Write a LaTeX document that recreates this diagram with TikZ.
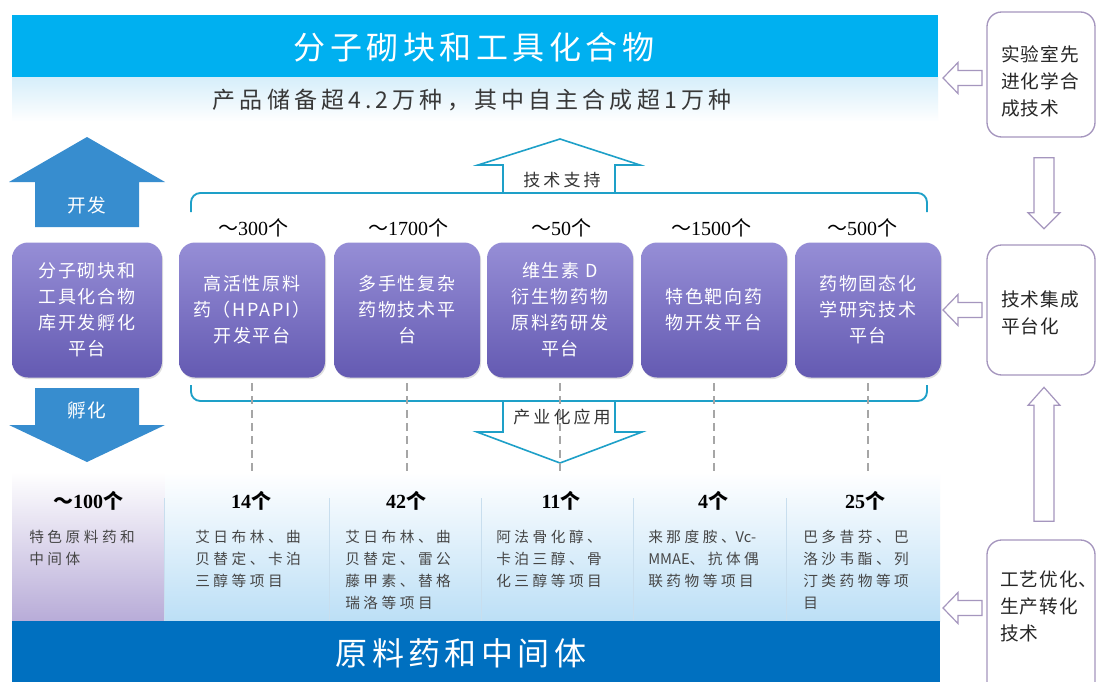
\documentclass[tikz,border=0pt]{standalone}
\usepackage{fontspec}
\setmainfont{Liberation Serif}
\newfontfamily\cjk{Noto Sans CJK SC}
\newfontfamily\cjkA[LetterSpace=14]{Noto Sans CJK SC}
\newfontfamily\cjkB[LetterSpace=18]{Noto Sans CJK SC}
\newfontfamily\cjkC[LetterSpace=10]{Noto Sans CJK SC}
\newfontfamily\cjkR[LetterSpace=5]{Noto Sans CJK SC}
\newfontfamily\cjkD[LetterSpace=24]{Noto Sans CJK SC}
\usetikzlibrary{shadows,calc}
\definecolor{topblue}{RGB}{0,176,240}
\definecolor{botblue}{RGB}{0,112,192}
\definecolor{arrblue}{RGB}{55,141,207}
\definecolor{brk}{RGB}{30,160,200}
\definecolor{purT}{RGB}{150,142,214}
\definecolor{purB}{RGB}{100,90,178}
\definecolor{rboxc}{RGB}{165,150,190}
\definecolor{lb}{RGB}{188,223,246}
\definecolor{lav}{RGB}{184,172,216}
\definecolor{lband}{RGB}{214,238,250}
\definecolor{descgray}{RGB}{70,70,70}
\definecolor{divc}{RGB}{200,222,238}
\newcommand\ct[1]{{\cjk ～}#1{\cjk 个}}
\begin{document}
\begin{tikzpicture}[x=0.75pt,y=-0.75pt,
  pbox/.style={rounded corners=12pt, top color=purT, bottom color=purB,
    minimum width=109.5pt, minimum height=101.25pt, text=white, align=center,
    inner sep=0pt, font=\fontsize{13.5}{19.5}\cjkC,
    drop shadow={opacity=0.25,shadow xshift=0.8pt,shadow yshift=-1.2pt}},
  cnt/.style={font=\fontsize{15}{18}\selectfont, inner sep=0pt},
  bcnt/.style={font=\fontsize{15}{18}\bfseries, inner sep=0pt},
  desc/.style={font=\fontsize{11}{16.5}\cjkD, text=descgray, align=left,
    anchor=north west, inner sep=0pt},
  cell/.style={inner sep=0pt, minimum height=111.75pt, top color=white, bottom color=lb},
  rbox/.style={draw=rboxc, line width=1pt, rounded corners=11pt, fill=white,
    minimum width=81pt, inner sep=0pt},
  rtext/.style={font=\fontsize{14}{20.25}\cjkR, text=black!85, align=left,
    anchor=west, inner sep=0pt},
  hol/.style={draw=rboxc, line width=0.9pt, fill=white, line join=miter},
  brkline/.style={draw=brk, line width=1.4pt, rounded corners=7pt},
  brkarrow/.style={draw=brk, line width=1.2pt, fill=white, line join=miter},
  dashline/.style={draw=black!35, line width=1pt, dash pattern=on 6pt off 4pt},
  btitle/.style={text=white, font=\fontsize{24}{28}\cjkA, inner sep=0pt},
  atext/.style={text=white, font=\fontsize{14}{18}\cjkC, inner sep=0pt},
  ltext/.style={text=black!80, font=\fontsize{12.75}{16}\cjkB, inner sep=0pt}
]
\useasboundingbox (0,0) rectangle (1097,682);
\fill[white] (0,0) rectangle (1097,682);

% top bands
\fill[topblue] (12,15) rectangle (938,77);
\shade[top color=lband, bottom color=white!96!lband] (12,77) rectangle (938,120);
\node[btitle] (title) at (474,47) {分子砌块和工具化合物};
\node[text=black!78, font=\fontsize{17.25}{20}\cjkB, inner sep=0pt] (sub) at (472,100)
  {产品储备超4.2万种，其中自主合成超1万种};

% left blue arrows
\fill[arrblue] (35,227) -- (35,182) -- (9,182) -- (87,137) -- (165,182) -- (139,182) -- (139,227) -- cycle;
\fill[arrblue] (35,388) -- (35,425) -- (9,425) -- (87,462) -- (165,425) -- (139,425) -- (139,388) -- cycle;
\node[atext] (kf) at (87,205) {开发};
\node[atext] (fh) at (87,410) {孵化};

% technical support / industrial application arrows
\draw[brkarrow] (503,193) -- (503,165) -- (478,165) -- (560,139) -- (640,165) -- (615,165) -- (615,193);
\draw[brkarrow] (503,401) -- (503,432) -- (477,432) -- (560,463) -- (642,432) -- (615,432) -- (615,401);
\node[ltext] (ts) at (562,180) {技术支持};
\node[ltext] (ia) at (562,417) {产业化应用};

% brackets
\draw[brkline] (191,212) -- (191,193) -- (927,193) -- (927,212);
\draw[brkline] (191,385) -- (191,401) -- (927,401) -- (927,385);

% platform boxes
\node[pbox, minimum width=112.5pt] (p0) at (87,310) {分子砌块和\\工具化合物\\库开发孵化\\平台};
\node[pbox] (p1) at (252,310) {高活性原料\\药（HPAPI）\\开发平台};
\node[pbox] (p2) at (407,310) {多手性复杂\\药物技术平\\台};
\node[pbox] (p3) at (560,310) {维生素 D\\衍生物药物\\原料药研发\\平台};
\node[pbox] (p4) at (714,310) {特色靶向药\\物开发平台};
\node[pbox] (p5) at (868,310) {药物固态化\\学研究技术\\平台};

% counts above
\node[cnt] (k1) at (253,228) {\ct{300}};
\node[cnt] (k2) at (408,228) {\ct{1700}};
\node[cnt] (k3) at (561,228) {\ct{50}};
\node[cnt] (k4) at (711,228) {\ct{1500}};
\node[cnt] (k5) at (862,228) {\ct{500}};

% bottom cells
\node[cell, minimum width=114.75pt, bottom color=lav] (c1) at (88.5,546.5) {};
\node[cell, minimum width=123.75pt] (c2) at (247.5,546.5) {};
\node[cell, minimum width=114pt] (c3) at (406,546.5) {};
\node[cell, minimum width=114pt] (c4) at (558,546.5) {};
\node[cell, minimum width=114.75pt] (c5) at (710.5,546.5) {};
\node[cell, minimum width=114.75pt] (c6) at (863.5,546.5) {};
\foreach \c in {c2,c3,c4,c5,c6}
  \draw[divc, line width=0.8pt] ([yshift=-20pt]\c.north west) -- (\c.south west);

% dashed guide lines
\draw[dashline] ([yshift=-4pt]p1.south) -- (p1.south |- c2.north);
\draw[dashline] ([yshift=-4pt]p2.south) -- (p2.south |- c3.north);
\draw[dashline] ([yshift=-4pt]p3.south) -- (p3.south |- c4.north);
\draw[dashline] ([yshift=-4pt]p4.south) -- (p4.south |- c5.north);
\draw[dashline] ([yshift=-4pt]p5.south) -- (p5.south |- c6.north);

% bottom counts
\node[bcnt] (b1) at (88,501) {\ct{100}};
\node[bcnt] (b2) at (251,501) {14{\cjk 个}};
\node[bcnt] (b3) at (406,501) {42{\cjk 个}};
\node[bcnt] (b4) at (561,501) {11{\cjk 个}};
\node[bcnt] (b5) at (713,501) {4{\cjk 个}};
\node[bcnt] (b6) at (865,501) {25{\cjk 个}};

% descriptions
\node[desc] (d1) at (29,530) {特色原料药和\\中间体};
\node[desc] (d2) at (195,530) {艾日布林、曲\\贝替定、卡泊\\三醇等项目};
\node[desc] (d3) at (345,530) {艾日布林、曲\\贝替定、雷公\\藤甲素、替格\\瑞洛等项目};
\node[desc] (d4) at (496,530) {阿法骨化醇、\\卡泊三醇、骨\\化三醇等项目};
\node[desc] (d5) at (648,530) {来那度胺、{\cjk Vc-}\\{\cjk MMAE}、抗体偶\\联药物等项目};
\node[desc] (d6) at (803,530) {巴多昔芬、巴\\洛沙韦酯、列\\汀类药物等项\\目};

% bottom band
\fill[botblue] (12,621) rectangle (940,682);
\node[btitle] (bt) at (461,653) {原料药和中间体};

% right column boxes
\node[rbox, minimum height=93.75pt] (rb1) at (1041,74.5) {};
\node[rbox, minimum height=97.5pt] (rb2) at (1041,310) {};
\node[rbox, minimum height=120pt] (rb3) at (1041,620) {};
\node[rtext] (rt1) at (1001,81) {实验室先\\进化学合\\成技术};
\node[rtext] (rt2) at (1001,313) {技术集成\\平台化};
\node[rtext] (rt3) at (1000,606) {工艺优化、\\生产转化\\技术};

% hollow left arrows
\coordinate (a1) at (982,78);
\coordinate (a2) at (982,310);
\coordinate (a3) at (982,608);
\foreach \a in {a1,a2,a3}
  \draw[hol] (\a) ++(0,-7.5) -- ++(-24,0) -- ++(0,-8) -- ++(-15,15.5) -- ++(15,15.5) -- ++(0,-8) -- ++(24,0) -- cycle;

% hollow vertical arrows
\draw[hol] ($(rb1.south)+(-7,20)$) -- ++(0,55) -- ++(-6,0) -- ++(16,16) -- ++(16,-16) -- ++(-6,0) -- ++(0,-55) -- cycle;
\draw[hol] ($(rb3.north)+(-7,-18)$) -- ++(0,-116) -- ++(-6,0) -- ++(16,-18) -- ++(16,18) -- ++(-6,0) -- ++(0,116) -- cycle;
\end{tikzpicture}
\end{document}
